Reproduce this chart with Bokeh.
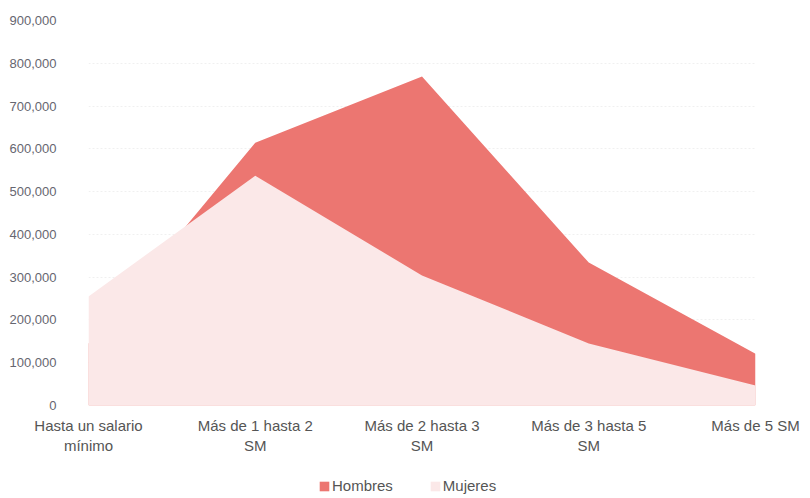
from bokeh.plotting import figure
from bokeh.layouts import column
from bokeh.models import Range1d, FixedTicker, NumeralTickFormatter, Legend, LegendItem
from bokeh.embed import file_html
from bokeh.resources import INLINE

categories = ["Hasta un salario\nmínimo", "Más de 1 hasta 2\nSM", "Más de 2 hasta 3\nSM",
              "Más de 3 hasta 5\nSM", "Más de 5 SM"]
hombres = [145000, 614000, 769000, 334000, 121000]
mujeres = [255000, 537000, 304000, 145000, 47000]
y_ticks = [0, 100000, 200000, 300000, 400000, 500000, 600000, 700000, 800000, 900000]
series_names = ["Hombres", "Mujeres"]
series_colors = ["#ec7671", "#fbe8e8"]

xs = list(range(len(categories)))

p = figure(width=808, height=466, output_backend="svg", toolbar_location=None,
           x_range=Range1d(0, len(categories) - 1), y_range=Range1d(0, 900000),
           min_border_left=88, min_border_right=53, min_border_top=20, min_border_bottom=61)
p.outline_line_color = None
p.background_fill_color = "white"

p.varea(x=xs, y1=0, y2=hombres, fill_color=series_colors[0])
p.varea(x=xs, y1=0, y2=mujeres, fill_color=series_colors[1])

p.xaxis.ticker = FixedTicker(ticks=xs)
p.xaxis.major_label_overrides = {i: c for i, c in enumerate(categories)}
p.xaxis.axis_line_color = None
p.xaxis.major_tick_line_color = None
p.xaxis.minor_tick_line_color = None
p.xaxis.major_label_text_font = "Liberation Sans"
p.xaxis.major_label_text_font_size = "15px"
p.xaxis.major_label_text_color = "#555555"
p.xaxis.major_label_standoff = 5

p.yaxis.ticker = FixedTicker(ticks=y_ticks)
p.yaxis.formatter = NumeralTickFormatter(format="0,0")
p.yaxis.axis_line_color = None
p.yaxis.major_tick_line_color = None
p.yaxis.minor_tick_line_color = None
p.yaxis.major_label_text_font = "Liberation Sans"
p.yaxis.major_label_text_font_size = "13px"
p.yaxis.major_label_text_color = "#666670"
p.yaxis.major_label_text_align = "left"
p.yaxis.major_label_standoff = 26

p.xgrid.grid_line_color = None
p.ygrid.ticker = FixedTicker(ticks=y_ticks[1:])
p.ygrid.grid_line_color = "#e6e6e6"
p.ygrid.grid_line_dash = "2 2"
p.ygrid.grid_line_alpha = 0.6

# legend strip (swatches come from zero-size legend-only glyphs)
p2 = figure(width=808, height=28, output_backend="svg", toolbar_location=None,
            x_axis_type=None, y_axis_type=None, min_border=0,
            x_range=Range1d(0, 1), y_range=Range1d(0, 1))
p2.outline_line_color = None
p2.grid.grid_line_color = None
items = []
for name, col in zip(series_names, series_colors):
    r = p2.quad(left=[0], right=[0], bottom=[0], top=[0], fill_color=col, line_color=None)
    items.append(LegendItem(label=name, renderers=[r]))
legend = Legend(items=items, orientation="horizontal", location=(230, 0),
                label_text_font="Liberation Sans", label_text_font_size="15px",
                label_text_color="#555555", glyph_width=12, glyph_height=12,
                label_standoff=2, spacing=36, padding=0, margin=0,
                label_height=14,
                border_line_color=None, background_fill_alpha=0)
p2.add_layout(legend, "center")

open("out.html", "w").write(file_html(column(p, p2, spacing=0), INLINE))
